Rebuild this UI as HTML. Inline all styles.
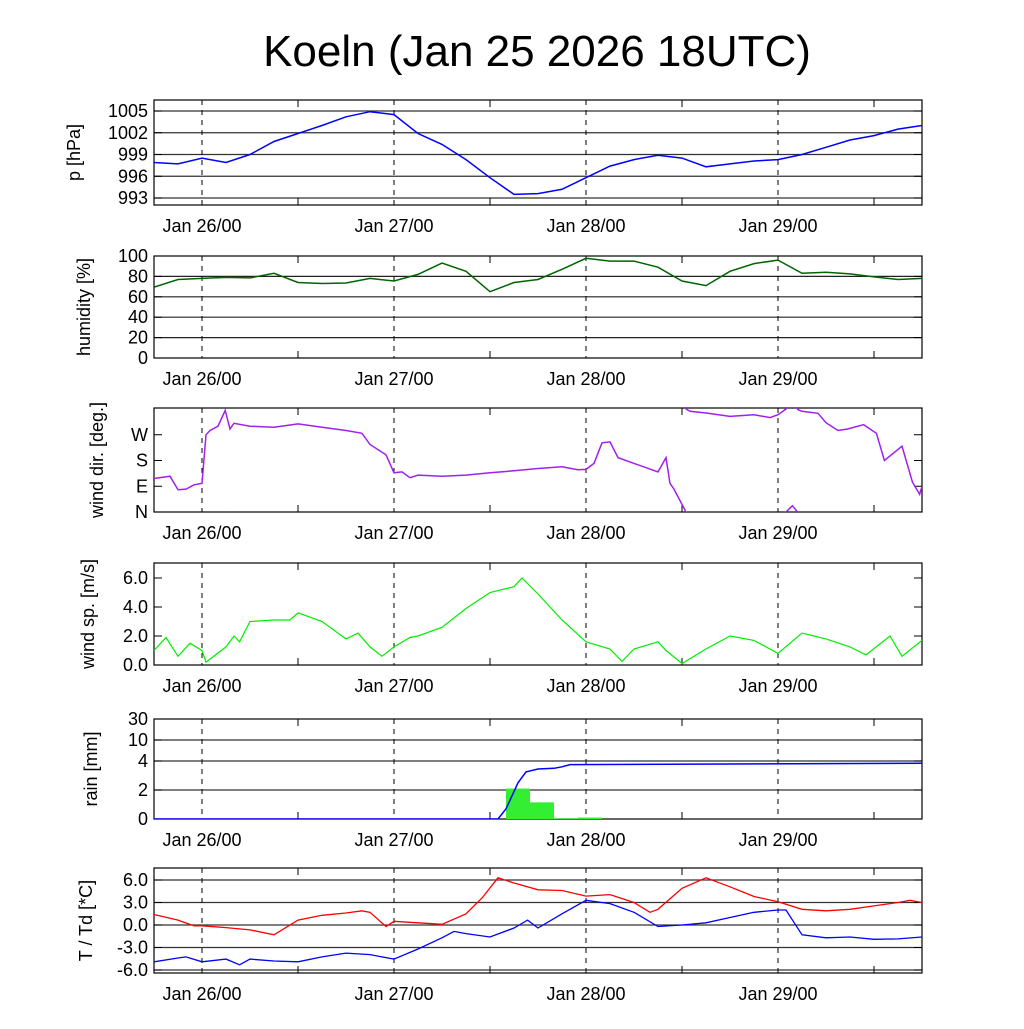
<!DOCTYPE html>
<html><head><meta charset="utf-8">
<style>
html,body{margin:0;padding:0;background:#fff;}
svg text{font-family:"Liberation Sans",sans-serif;fill:#000;}
</style></head>
<body>
<svg id="chart" width="1024" height="1024" viewBox="0 0 1024 1024" xmlns="http://www.w3.org/2000/svg">
<rect x="0" y="0" width="1024" height="1024" fill="#fff"/>
<text x="537" y="66" font-size="44" text-anchor="middle">Koeln (Jan 25 2026 18UTC)</text>
</svg>
<script>
// ---- data (hours since Jan 25 18UTC) ----
const dayLabels = ["Jan 26/00","Jan 27/00","Jan 28/00","Jan 29/00"];
const dayHours = [6,30,54,78];
const pHours = [0,3,6,9,12,15,18,21,24,27,30,33,36,39,42,45,48,51,54,57,60,63,66,69,72,75,78,81,84,87,90,93,96];
const pValues = [997.9,997.7,998.5,997.9,999,1000.8,1001.9,1003,1004.2,1004.9,1004.5,1001.9,1000.4,998.3,995.8,993.5,993.6,994.2,995.8,997.4,998.3,998.9,998.5,997.3,997.7,998.1,998.3,999,1000,1001,1001.6,1002.5,1003];
const pTicks = [993,996,999,1002,1005];
const rhHours = pHours;
const rhValues = [69.5,77,78,79,78.5,83,74,73,73.5,78,75.5,82,93,85,65,74,77,87,97.7,95,95,89,75.5,71,85,92.5,96,83,84,82.5,79.5,77,78];
const rhTicks = [0,20,40,60,80,100];
const dirHours = [0,2,3,4,5,6,6.5,7,8,8.9,9.5,10,12,15,18,21,24,26,27,29,30,31,32,33,36,39,42,45,48,51,53,54,55,56,57,58,60,62,63,64,64.5,65,66.5,67,69,72,75,77,78,79,79.8,80.5,81,83,84,85.5,86.7,88.7,90.3,91.3,93.5,94.8,95.7,96];
const dirValues = [117,125,78,80,95,100,270,285,300,355,290,310,300,296,308,296,285,275,236,200,137,140,120,129,125,129,137,144,152,158,148,149,170,242,245,190,170,150,140,190,100,80,0,-8,-14,-26,-20,-30,-20,0,22,-2,-8,-15,-48,-75,-70,-55,-85,-180,-130,-255,-298,-270];
const dirTickLabels = ["N","E","S","W"];
const dirTicks = [0,90,180,270];
const wsHours = [0,1.5,3,4.5,6,6.5,9,10,10.7,12,15,17,18,21,24,25.5,27,28.5,30,32,33,36,39,42,45,46,48,51,54,57,58.5,60,63,64,66,69,72,75,78,81,84,87,89,92,93.5,96];
const wsValues = [1.0,1.9,0.6,1.5,1.0,0.2,1.25,2.0,1.6,3.0,3.1,3.1,3.6,3.0,1.8,2.2,1.25,0.6,1.25,1.9,2.0,2.6,3.9,5.0,5.4,6.0,4.9,3.1,1.6,1.1,0.25,1.1,1.6,1.0,0.1,1.1,2.0,1.7,0.8,2.2,1.8,1.25,0.7,2.0,0.6,1.7];
const wsTicks = [0,2,4,6];
const rainBarStart = [44,47,50,53];
const rainBarValues = [2.1,1.15,0.05,0.1];
const rainCumHours = [0,43,44,45.5,46.5,48,50,51,52,96];
const rainCumValues = [0,0,0.7,2.5,3.25,3.45,3.5,3.6,3.75,3.85];
const rainTicks = [0,2,4,10,30];
const tHours = [0,3,5,6,9,12,15,18,21,24,26,27,29,30,33,36,39,41,43,45,48,51,54,57,60,62,63,66,69,72,75,78,81,84,87,90,93,94.5,96];
const tValues = [1.4,0.65,-0.1,-0.1,-0.35,-0.65,-1.3,0.65,1.3,1.6,1.9,1.7,-0.2,0.5,0.3,0.1,1.5,3.6,6.3,5.6,4.7,4.6,3.85,4.05,3.0,1.7,2.1,4.9,6.3,5.1,3.8,3.1,2.1,1.9,2.1,2.55,3.0,3.3,3.0];
const tdHours = [0,3,4,6,9,10.7,12,15,18,21,24,27,30,33,36,37.5,39,42,45,46.7,48,51,54,57,60,63,66,69,72,75,78,79,81,84,87,90,93,96];
const tdValues = [-4.9,-4.4,-4.25,-4.9,-4.55,-5.3,-4.55,-4.8,-4.9,-4.25,-3.75,-3.95,-4.55,-3.2,-1.7,-0.85,-1.15,-1.6,-0.4,0.65,-0.4,1.5,3.3,2.85,1.7,-0.2,0.0,0.3,1.0,1.7,2.0,2.0,-1.3,-1.7,-1.6,-1.9,-1.85,-1.6];
const tTicks = [-6,-3,0,3,6];

// ---- layout ----
const NS="http://www.w3.org/2000/svg";
const svg=document.getElementById('chart');
const X0=154, X1=922, HMAX=96;
const xs=h=>X0+(X1-X0)*h/HMAX;
function el(tag,attrs,parent){const e=document.createElementNS(NS,tag);for(const k in attrs)e.setAttribute(k,attrs[k]);(parent||svg).appendChild(e);return e;}
function lin(v0,y0,v1,y1){return v=>y0+(v-v0)*(y1-y0)/(v1-v0);}
function pathFrom(hs,vs,ys){let d='';for(let i=0;i<hs.length;i++){d+=(i?'L':'M')+xs(hs[i]).toFixed(1)+','+ys(vs[i]).toFixed(1);}return d;}

function panel(name,top,bot,ylabel,ylx,ticks,tickLabels,ys,gridColor){
  const g=el('g',{},svg);
  
  
  ticks.forEach((t,i)=>{
    const y=ys(t);
    if(y>top+0.5&&y<bot-0.5){
      const gl=el('line',{x1:X0,x2:X1,y1:y,y2:y,stroke:gridColor||'#333','stroke-width':1.2},g);
      
      
    }
    const tl=el('text',{x:X0-6,y:y+6,'font-size':18,'text-anchor':'end'},g);
    tl.textContent=tickLabels[i];
    
    
    el('line',{x1:X0,x2:X0+8,y1:y,y2:y,stroke:'#000'},g);
    el('line',{x1:X1-8,x2:X1,y1:y,y2:y,stroke:'#000'},g);
  });
  dayHours.forEach((h,i)=>{
    const dl=el('line',{x1:xs(h),x2:xs(h),y1:top,y2:bot,stroke:'#000','stroke-dasharray':'5,5'},g);
    
    
    el('line',{x1:xs(h+12),x2:xs(h+12),y1:bot-7,y2:bot,stroke:'#000'},g);
    el('line',{x1:xs(h+12),x2:xs(h+12),y1:top,y2:top+7,stroke:'#000'},g);
    const xl=el('text',{x:xs(h),y:bot+27,'font-size':18,'text-anchor':'middle'},g);
    xl.textContent=dayLabels[i];
    
    
  });
  const fr=el('rect',{x:X0,y:top,width:X1-X0,height:bot-top,fill:'none',stroke:'#000','stroke-width':1.2},g);
  
  
  const cy=(top+bot)/2;
  const yl=el('text',{x:ylx,y:cy,'font-size':18,'text-anchor':'middle',transform:'rotate(-90 '+ylx+' '+cy+')'},g);
  yl.textContent=ylabel;
  
  
  const cid='clip-'+name;
  const cp=el('clipPath',{id:cid},g);el('rect',{x:X0,y:top,width:X1-X0,height:bot-top},cp);
  const plot=el('g',{'clip-path':'url(#'+cid+')'},g);
  return plot;
}

// pressure
const yP=lin(1005,111,993,198);
let g=panel('pressure',100,205,'p [hPa]',80,pTicks,pTicks.map(String),yP);
let ln=el('path',{d:pathFrom(pHours,pValues,yP),fill:'none',stroke:'#0000ff','stroke-width':1.5},g);



// humidity
const yRH=lin(0,358,100,256);
g=panel('humidity',256,358,'humidity [%]',90,rhTicks,rhTicks.map(String),yRH,'#222');
ln=el('path',{d:pathFrom(rhHours,rhValues,yRH),fill:'none',stroke:'#006400','stroke-width':1.5},g);



// wind direction
const yD=lin(0,512,360,409);
g=panel('wind-direction',408,512,'wind dir. [deg.]',103,dirTicks,dirTickLabels,yD,'none');
[-360,0,360].forEach(off=>{
  const vs=dirValues.map(v=>v+off);
  const l=el('path',{d:pathFrom(dirHours,vs,yD),fill:'none',stroke:'#a020f0','stroke-width':1.5},g);
  
  
});

// wind speed
const yW=lin(0,665,6,578);
g=panel('wind-speed',563,665,'wind sp. [m/s]',94,wsTicks,wsTicks.map(v=>v.toFixed(1)),yW,'none');
ln=el('path',{d:pathFrom(wsHours,wsValues,yW),fill:'none',stroke:'#00ee00','stroke-width':1.2},g);



// rain (piecewise scale)
const rainScaleV=[0,2,4,10,30];
const rainScaleY=[819,790,761,740,719];
function yR(v){
  for(let i=0;i<rainScaleV.length-1;i++){
    if(v<=rainScaleV[i+1]){
      const a=rainScaleV[i],b=rainScaleV[i+1];
      const f=i<2?(v-a)/(b-a):Math.log(v/a)/Math.log(b/a);
      return rainScaleY[i]+f*(rainScaleY[i+1]-rainScaleY[i]);
    }
  }
  return rainScaleY[rainScaleY.length-1];
}
g=panel('rain',719,819,'rain [mm]',97,rainTicks,rainTicks.map(String),yR);
rainBarStart.forEach((h,i)=>{
  const y=yR(rainBarValues[i]);
  const b=el('rect',{x:xs(h),y:y,width:xs(h+3)-xs(h),height:819-y,fill:'#33ee33'},g);
  
  
});
ln=el('path',{d:pathFrom(rainCumHours,rainCumValues,yR),fill:'none',stroke:'#0000ff','stroke-width':1.5},g);



// temperature
const yT=lin(0,925,6,880);
g=panel('temperature',868,973,'T / Td [*C]',92,tTicks,tTicks.map(v=>v.toFixed(1)),yT);
ln=el('path',{d:pathFrom(tHours,tValues,yT),fill:'none',stroke:'#ff0000','stroke-width':1.3},g);


ln=el('path',{d:pathFrom(tdHours,tdValues,yT),fill:'none',stroke:'#0000ff','stroke-width':1.3},g);


</script>
</body></html>
